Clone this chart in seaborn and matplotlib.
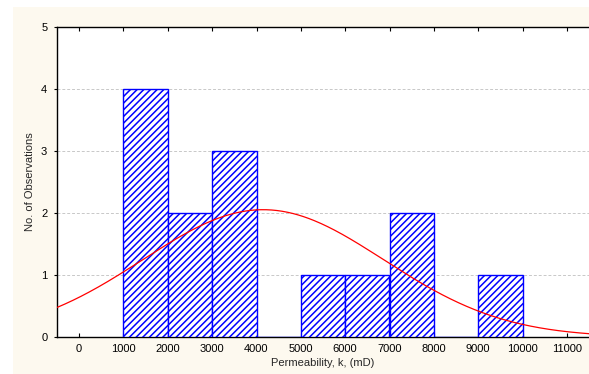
import numpy as np
import matplotlib
matplotlib.use("Agg")
import matplotlib.pyplot as plt
import seaborn as sns
from matplotlib.patches import Rectangle

# Data
bin_edges = [1000, 2000, 3000, 4000, 5000, 6000, 7000, 8000, 9000, 10000]
bin_centers = [1500, 2500, 3500, 4500, 5500, 6500, 7500, 8500, 9500]
counts = [4, 2, 3, 0, 1, 1, 2, 0, 1]
fit_mean = 4150
fit_sd = 2720
x_ticks = list(range(0, 12000, 1000))
y_ticks = [0, 1, 2, 3, 4, 5]

sns.set_style("white")
plt.rcParams['font.family'] = ['Liberation Sans', 'DejaVu Sans']
plt.rcParams['hatch.linewidth'] = 1.1

fig = plt.figure(figsize=(5.89, 3.74), dpi=100)
fig.patch.set_facecolor('white')
bg = Rectangle((13/589, 0), 1 - 13/589, 1 - 7/374,
               transform=fig.transFigure, facecolor='#FDF9EF',
               edgecolor='none', zorder=-10)
fig.add_artist(bg)
ax = fig.add_axes([57/589, 1 - 337/374, 1 - 57/589, (337 - 27)/374])
ax.set_zorder(5)
ax.set_facecolor('white')

sns.histplot(x=bin_centers, weights=counts, bins=bin_edges, ax=ax,
             stat='count', color='white', edgecolor='#0000FF', linewidth=1.0,
             alpha=1, zorder=3)
for p in ax.patches:
    p.set_hatch('/////')
    p.set_facecolor('white')
    p.set_edgecolor('#0000FF')
    try:
        p.set_hatchcolor('#5555FF')
    except AttributeError:
        pass

total = sum(counts)
width = bin_edges[1] - bin_edges[0]
xs = np.linspace(-500, 11500, 400)
ys = total * width / (fit_sd * np.sqrt(2 * np.pi)) * np.exp(-0.5 * ((xs - fit_mean) / fit_sd) ** 2)
sns.lineplot(x=xs, y=ys, ax=ax, color='#FF0000', linewidth=0.9, zorder=4)

ax.set_xlim(-500, 11500)
ax.set_ylim(0, 5)
ax.set_xticks(x_ticks)
ax.set_xticklabels([str(t) for t in x_ticks])
ax.set_yticks(y_ticks)
ax.set_yticklabels([str(t) for t in y_ticks])
ax.tick_params(axis='x', direction='in', length=3, width=0.8, labelsize=8,
               top=True, bottom=True, pad=5, colors='black')
ax.tick_params(axis='y', direction='out', length=2, width=0.8, labelsize=8,
               left=True, pad=5, colors='black')
for y in y_ticks[1:-1]:
    ax.axhline(y, color='#C8C8C8', linestyle=(0, (3, 2)), linewidth=0.7, zorder=1)

for s in ['left', 'top', 'bottom']:
    ax.spines[s].set_visible(True)
    ax.spines[s].set_color('black')
    ax.spines[s].set_linewidth(1.0)
ax.spines['right'].set_visible(False)

ax.set_xlabel('Permeability, k, (mD)', fontsize=8, labelpad=3)
ax.set_ylabel('No. of Observations', fontsize=8, labelpad=4)

fig.savefig('out.png', dpi=100)
